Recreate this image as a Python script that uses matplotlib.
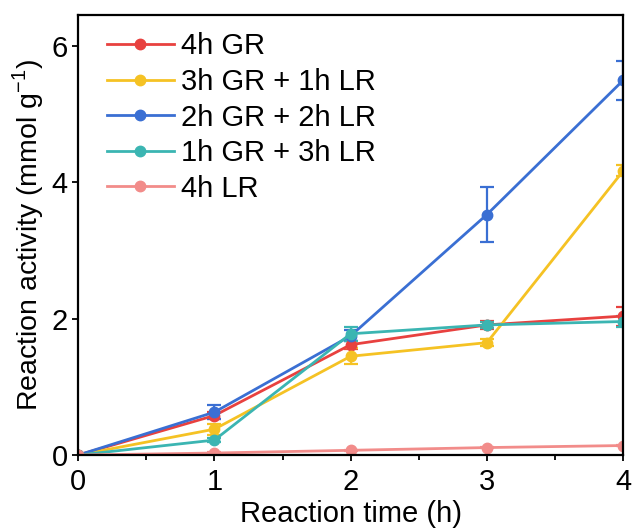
import numpy as np
import matplotlib.pyplot as plt

plt.rcParams['font.family'] = ['Liberation Sans', 'DejaVu Sans']
plt.rcParams['mathtext.fontset'] = 'custom'
plt.rcParams['mathtext.rm'] = 'Liberation Sans'

# data
time_h = [0, 1, 2, 3, 4]
labels = ["4h GR", "3h GR + 1h LR", "2h GR + 2h LR", "1h GR + 3h LR", "4h LR"]
colors = ["#e8413f", "#f5c224", "#3a6fd3", "#3bb5b2", "#f28c8a"]

gr4 = [0, 0.58, 1.62, 1.91, 2.04]
gr4_err = [0, 0.05, 0.06, 0.06, 0.14]
gr3_lr1 = [0, 0.38, 1.45, 1.65, 4.17]
gr3_lr1_err = [0, 0.08, 0.12, 0.05, 0.08]
gr2_lr2 = [0, 0.63, 1.75, 3.53, 5.50]
gr2_lr2_err = [0, 0.10, 0.08, 0.41, 0.29]
gr1_lr3 = [0, 0.22, 1.78, 1.91, 1.96]
gr1_lr3_err = [0, 0.03, 0.10, 0.05, 0.08]
lr4 = [0, 0.03, 0.07, 0.11, 0.14]
lr4_err = [0, 0.01, 0.01, 0.01, 0.01]

series = [gr4, gr3_lr1, gr2_lr2, gr1_lr3, lr4]
errors = [gr4_err, gr3_lr1_err, gr2_lr2_err, gr1_lr3_err, lr4_err]

fig = plt.figure(figsize=(6.33, 5.31), dpi=100)
ax = fig.add_axes([0.1235, 0.143, 0.861, 0.829])

for y, e, c, lab in zip(series, errors, colors, labels):
    ax.errorbar(time_h, y, yerr=e, color=c, marker='o', markersize=7.5,
                linewidth=2.0, elinewidth=1.6, capsize=5, capthick=1.6,
                label=lab)

ax.set_xlim(0, 4)
ax.set_ylim(0, 6.46)
ax.set_xticks([0, 1, 2, 3, 4])
ax.set_xticks([0.5, 1.5, 2.5, 3.5], minor=True)
ax.set_yticks([0, 2, 4, 6])
ax.tick_params(axis='both', which='major', labelsize=21, width=1.3, length=4.5,
               direction='out', pad=3)
ax.tick_params(axis='x', which='major', pad=5)
ax.tick_params(axis='x', which='minor', width=1.3, length=3.5, direction='out')
for s in ax.spines.values():
    s.set_linewidth(1.6)

ax.set_xlabel("Reaction time (h)", fontsize=21, labelpad=3)
ax.set_ylabel(r"Reaction activity (mmol g$^{\mathregular{-1}}$)", fontsize=20.5, labelpad=4)

handles, labs = ax.get_legend_handles_labels()
handles = [h[0] for h in handles]
ax.legend(handles, labs, loc='upper left', frameon=False, fontsize=21,
          handlelength=2.3, handletextpad=0.25, labelspacing=0.26,
          borderaxespad=0.2, bbox_to_anchor=(0.02, 1.0))

fig.savefig("out.png", dpi=100)
